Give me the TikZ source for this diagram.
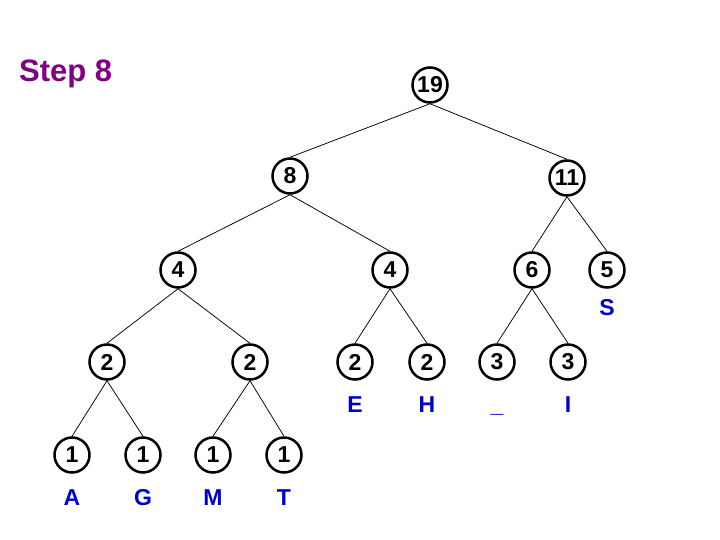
\documentclass[tikz,border=0pt]{standalone}
\usepackage{fontspec}
\setmainfont{Liberation Sans}
\usepackage{tikz}
\usetikzlibrary{positioning}
\definecolor{steppurple}{RGB}{128,0,128}
\definecolor{letterblue}{RGB}{0,0,204}

\begin{document}
\begin{tikzpicture}[
  x=1pt, y=-1pt,
  weight/.style={draw, circle, line width=2.5pt, minimum size=35pt, inner sep=0pt, font=\fontsize{23}{23}\selectfont\bfseries},
  letter/.style={inner sep=0pt, text height=16.5pt, text depth=0pt, text=letterblue, font=\fontsize{23}{23}\selectfont\bfseries},
  edge/.style={line width=0.75pt},
]
  \useasboundingbox (0,0) rectangle (720,540);

  % title
  \node[anchor=base west, inner sep=0pt, text=steppurple, font=\fontsize{31}{31}\selectfont\bfseries] (title) at (19,82) {Step 8};

  % root and inner nodes
  \node[weight] (n19) at (430,85) {19};
  \node[weight] (n8) at (290,176) {8};
  \node[weight] (n11) at (567,178) {11};
  \node[weight] (n4a) at (178,270) {4};
  \node[weight] (n4b) at (390,270) {4};
  \node[weight] (n6) at (532,270) {6};
  \node[weight] (n5) at (607,270) {5};
  \node[weight] (n2a) at (107,362) {2};
  \node[weight] (n2b) at (250,362) {2};
  \node[weight] (n2c) at (355,362) {2};
  \node[weight] (n2d) at (427,362) {2};
  \node[weight] (n3a) at (497,362) {3};
  \node[weight] (n3b) at (568,362) {3};
  \node[weight] (n1a) at (72,455) {1};
  \node[weight] (n1b) at (143,455) {1};
  \node[weight] (n1c) at (213,455) {1};
  \node[weight] (n1d) at (284,455) {1};

  % letters
  \node[letter, below=10pt of n5] (ls) {S};
  \node[letter, below=15pt of n2c] (le) {E};
  \node[letter, below=15pt of n2d] (lh) {H};
  \node[letter, below=15pt of n3a] (lsp) {\_};
  \node[letter, below=15pt of n3b] (li) {I};
  \node[letter, below=15pt of n1a] (la) {A};
  \node[letter, below=15pt of n1b] (lg) {G};
  \node[letter, below=15pt of n1c] (lm) {M};
  \node[letter, below=15pt of n1d] (lt) {T};

  \draw[edge] (n19.south) -- (n8.north);
  \draw[edge] (n19.south) -- (n11.north);
  \draw[edge] (n8.south) -- (n4a.north);
  \draw[edge] (n8.south) -- (n4b.north);
  \draw[edge] (n11.south) -- (n6.north);
  \draw[edge] (n11.south) -- (n5.north);
  \draw[edge] (n4a.south) -- (n2a.north);
  \draw[edge] (n4a.south) -- (n2b.north);
  \draw[edge] (n4b.south) -- (n2c.north);
  \draw[edge] (n4b.south) -- (n2d.north);
  \draw[edge] (n6.south) -- (n3a.north);
  \draw[edge] (n6.south) -- (n3b.north);
  \draw[edge] (n2a.south) -- (n1a.north);
  \draw[edge] (n2a.south) -- (n1b.north);
  \draw[edge] (n2b.south) -- (n1c.north);
  \draw[edge] (n2b.south) -- (n1d.north);
\end{tikzpicture}
\end{document}
